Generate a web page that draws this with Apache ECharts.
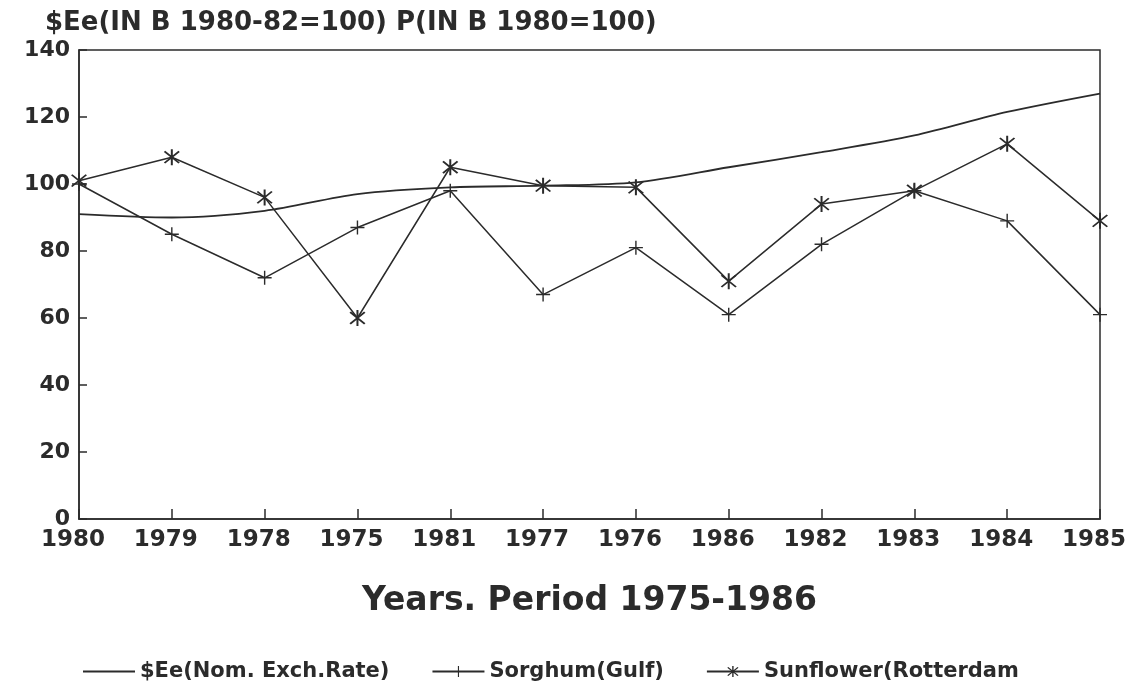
<!DOCTYPE html>
<html>
<head>
<meta charset="utf-8">
<script src="https://cdn.jsdelivr.net/npm/echarts@6/dist/echarts.min.js"></script>
<style>
  html, body { margin: 0; padding: 0; background: #fff; }
  #chart { width: 1130px; height: 685px; }
</style>
</head>
<body>
<div id="chart"></div>
<script>
// categories as printed on the axis (not chronological)
const years = ['1980', '1979', '1978', '1975', '1981', '1977', '1976', '1986', '1982', '1983', '1984', '1985']

// values
const exchRate = [91, 90, 92, 97, 99, 99.5, 100.5, 105, 109.5, 114.5, 121.5, 127]
const sorghum = [100, 85, 72, 87, 98, 67, 81, 61, 82, 98, 89, 61]
const sunflower = [101, 108, 96, 60, 105, 99.5, 99, 71, 94, 98, 112, 89]

const ink = '#2b2b2b'
const font = 'DejaVu Sans, Verdana, sans-serif'

const plusPath = 'path://M-1,-10h2v20h-2zM-10,-1h20v2h-20z'
const starPath = 'path://M-1,-10h2v20h-2zM-8,-6.6L-6.6,-8L8,6.6L6.6,8zM6.6,-8L8,-6.6L-6.6,8L-8,6.6z'

const chart = echarts.init(document.getElementById('chart'))

chart.setOption({
  backgroundColor: '#fff',
  animation: false,
  title: {
    text: '$Ee(IN B 1980-82=100) P(IN B 1980=100)',
    left: 40,
    top: 5,
    textStyle: { fontFamily: font, fontSize: 26, fontWeight: 'bold', color: ink }
  },
  legend: {
    left: 78,
    top: 656,
    itemWidth: 52,
    itemHeight: 14,
    itemGap: 42,
    textStyle: { fontFamily: font, fontSize: 21, fontWeight: 'bold', color: ink },
    data: [
      { name: '$Ee(Nom. Exch.Rate)', icon: 'path://M0,0h50v2h-50z' },
      'Sorghum(Gulf)',
      'Sunflower(Rotterdam'
    ]
  },
  grid: {
    left: 79,
    right: 30,
    top: 50,
    bottom: 166,
    outerBoundsMode: 'none',
    show: true,
    borderColor: ink,
    borderWidth: 1.5
  },
  xAxis: {
    type: 'category',
    data: years,
    boundaryGap: false,
    name: 'Years. Period 1975-1986',
    nameLocation: 'middle',
    nameGap: 66,
    nameTextStyle: { fontFamily: font, fontSize: 33, fontWeight: 'bold', color: ink },
    axisLine: { lineStyle: { color: ink, width: 1.5 } },
    axisTick: { inside: true, length: 10, lineStyle: { color: ink, width: 1.5 } },
    axisLabel: {
      fontFamily: font, fontSize: 23, fontWeight: 'bold', color: ink, margin: 10,
      padding: [0, 12, 0, 0]
    },
    splitLine: { show: false }
  },
  yAxis: {
    type: 'value',
    min: 0,
    max: 140,
    interval: 20,
    axisLine: { show: true, lineStyle: { color: ink, width: 1.5 } },
    axisTick: { show: true, inside: true, length: 8, lineStyle: { color: ink, width: 1.5 } },
    axisLabel: { fontFamily: font, fontSize: 22, fontWeight: 'bold', color: ink, margin: 9 },
    splitLine: { show: false }
  },
  series: [
    {
      name: '$Ee(Nom. Exch.Rate)',
      type: 'line',
      data: exchRate,
      smooth: 0.3,
      symbol: 'none',
      lineStyle: { color: ink, width: 1.8 },
      itemStyle: { color: ink }
    },
    {
      name: 'Sorghum(Gulf)',
      type: 'line',
      data: sorghum,
      symbol: plusPath,
      symbolSize: 14,
      lineStyle: { color: ink, width: 1.5 },
      itemStyle: { color: ink }
    },
    {
      name: 'Sunflower(Rotterdam',
      type: 'line',
      data: sunflower,
      symbol: starPath,
      symbolSize: 16,
      lineStyle: { color: ink, width: 1.5 },
      itemStyle: { color: ink }
    }
  ]
})
</script>
</body>
</html>
